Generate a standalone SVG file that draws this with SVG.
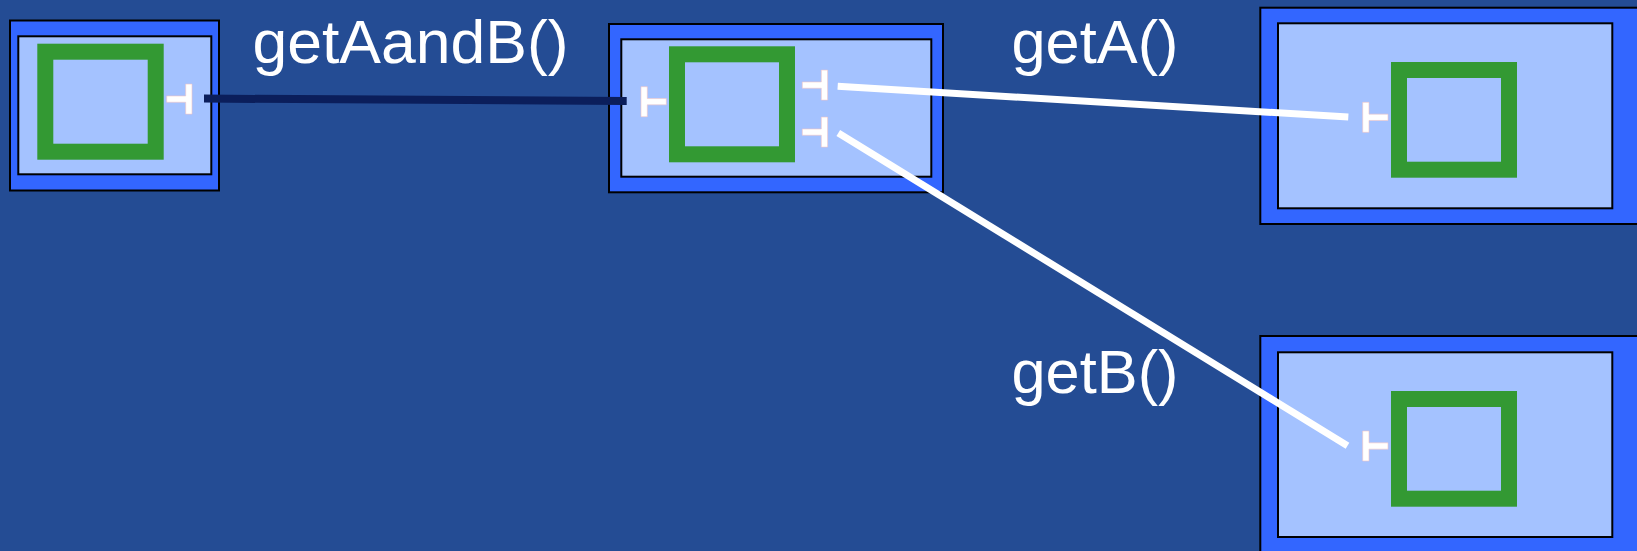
<svg xmlns="http://www.w3.org/2000/svg" width="1637" height="551" viewBox="0 0 1637 551">
  <style>
    .outer { fill: #3366FF; stroke: #000000; stroke-width: 2; }
    .inner { fill: #A4C2FF; stroke: #000000; stroke-width: 2; }
    .core { fill: #A4C2FF; stroke: #339933; stroke-width: 16; }
    .port { fill: #FFFFFF; stroke: #F2C4C4; stroke-width: 0.6; }
    .label { font-family: "Liberation Sans", Arial, sans-serif; font-size: 61px; fill: #FFFFFF; }
    .wire { fill: none; stroke-linecap: butt; }
  </style>
  <defs>
    <!-- port symbol: stem on the left, bar on the right -->
    <path id="port-out" d="M0,-3.15 H19 V-15 H25.3 V15 H19 V3.15 H0 Z"/>
    <!-- port symbol: bar on the left, stem on the right -->
    <path id="port-in" d="M0,-15 H6.3 V-3.15 H25.3 V3.15 H6.3 V15 H0 Z"/>
  </defs>

  <rect width="1637" height="551" fill="#244C94"/>

  <g id="client">
    <rect class="outer" x="10" y="20.5" width="209" height="170"/>
    <rect class="inner" x="18.3" y="36.3" width="193" height="138"/>
    <rect class="core" x="45.3" y="51.7" width="110.4" height="100"/>
    <use href="#port-out" class="port" x="166.7" y="99.1"/>
  </g>

  <g id="composite">
    <rect class="outer" x="609" y="24" width="334" height="168.3"/>
    <rect class="inner" x="621.3" y="39.3" width="310" height="137.4"/>
    <rect class="core" x="677" y="54.3" width="110" height="100"/>
    <use href="#port-in" class="port" x="641" y="101.7"/>
    <use href="#port-out" class="port" x="802.3" y="85.1"/>
    <use href="#port-out" class="port" x="802.3" y="132.1"/>
  </g>

  <g id="serviceA">
    <rect class="outer" x="1260.3" y="7.7" width="400" height="216.3"/>
    <rect class="inner" x="1278" y="23.3" width="334.3" height="185"/>
    <rect class="core" x="1399" y="70" width="110" height="99.7"/>
    <use href="#port-in" class="port" x="1362.7" y="117.3"/>
  </g>

  <g id="serviceB">
    <rect class="outer" x="1260.3" y="336" width="400" height="240"/>
    <rect class="inner" x="1278" y="352.3" width="334.3" height="184.7"/>
    <rect class="core" x="1399" y="399" width="110" height="99.7"/>
    <use href="#port-in" class="port" x="1362.7" y="446"/>
  </g>

  <g id="connectors">
    <line class="wire" x1="204" y1="98.6" x2="626.7" y2="100.9" stroke="#0B1E5B" stroke-width="8"/>
    <line class="wire" x1="837.7" y1="86.3" x2="1348.3" y2="117" stroke="#FFFFFF" stroke-width="7"/>
    <line class="wire" x1="838.3" y1="133" x2="1347.5" y2="445.8" stroke="#FFFFFF" stroke-width="7"/>
  </g>

  <g id="labels">
    <text class="label" x="252.5" y="62.5" textLength="316" lengthAdjust="spacingAndGlyphs">getAandB()</text>
    <text class="label" x="1011.5" y="62.5" textLength="167" lengthAdjust="spacingAndGlyphs">getA()</text>
    <text class="label" x="1011.5" y="392.5" textLength="167" lengthAdjust="spacingAndGlyphs">getB()</text>
  </g>
</svg>
